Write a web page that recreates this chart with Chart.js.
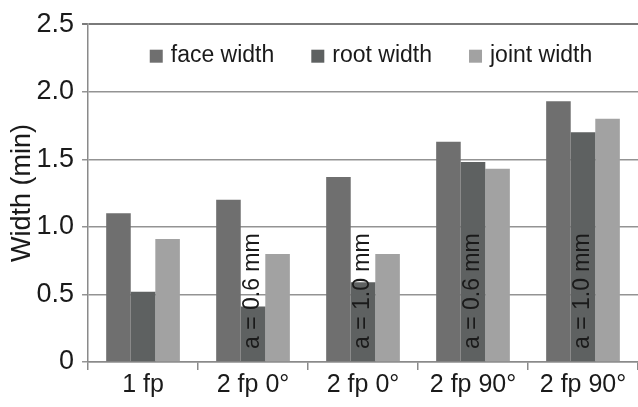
<!DOCTYPE html>
<html>
<head>
<meta charset="utf-8">
<script src="https://cdn.jsdelivr.net/npm/chart.js@4.4.1/dist/chart.umd.min.js"></script>
<style>
  html, body { margin: 0; padding: 0; background: #fff; overflow: hidden; }
  #wrap { position: relative; width: 638px; height: 407px; }
</style>
</head>
<body>
<div id="wrap"><canvas id="canvas-grafico-largura"></canvas></div>
<script>
const categorias = ["1 fp", "2 fp 0°", "2 fp 0°", "2 fp 90°", "2 fp 90°"];
const faceWidth = [1.10, 1.20, 1.37, 1.63, 1.93];
const rootWidth = [0.52, 0.41, 0.59, 1.48, 1.70];
const jointWidth = [0.91, 0.80, 0.80, 1.43, 1.80];
const notas = ["", "a = 0.6 mm", "a = 1.0 mm", "a = 0.6 mm", "a = 1.0 mm"];
const yTicks = [0, 0.5, 1.0, 1.5, 2.0, 2.5];

const fonte = "'Liberation Sans', Arial, sans-serif";
Chart.defaults.font.family = fonte;
Chart.defaults.color = "#1a1a1a";

// vertical "a = ..." text on the root width bars
const notasPlugin = {
  id: "notas",
  afterDatasetsDraw(chart) {
    const ctx = chart.ctx;
    const meta = chart.getDatasetMeta(1);
    const y0 = chart.scales.y.getPixelForValue(0);
    ctx.save();
    ctx.font = "23px " + fonte;
    ctx.fillStyle = "#1a1a1a";
    ctx.textAlign = "left";
    ctx.textBaseline = "middle";
    notas.forEach((txt, i) => {
      if (!txt) return;
      const bar = meta.data[i];
      ctx.save();
      ctx.translate(bar.x, y0 - 13);
      ctx.rotate(-Math.PI / 2);
      ctx.fillText(txt, 0, 0);
      ctx.restore();
    });
    ctx.restore();
  },
};

// legend in one row inside the plot area
const legendaPlugin = {
  id: "legenda",
  afterDraw(chart) {
    const ctx = chart.ctx;
    const area = chart.chartArea;
    const box = 13, gapText = 8, gapItem = 37;
    ctx.save();
    ctx.font = "23px " + fonte;
    ctx.textAlign = "left";
    ctx.textBaseline = "middle";
    const items = chart.data.datasets.map((ds) => ({
      text: ds.label,
      color: ds.backgroundColor,
      w: ctx.measureText(ds.label).width,
    }));
    const total = items.reduce((s, it) => s + box + gapText + it.w, 0) + gapItem * (items.length - 1);
    let x = (area.left + area.right) / 2 - total / 2 + 8;
    const y = area.top + 31;
    items.forEach((it) => {
      ctx.fillStyle = it.color;
      ctx.fillRect(x, y - box / 2 + 1, box, box);
      ctx.fillStyle = "#1a1a1a";
      ctx.fillText(it.text, x + box + gapText, y);
      x += box + gapText + it.w + gapItem;
    });
    ctx.restore();
  },
};

new Chart(document.getElementById("canvas-grafico-largura"), {
  type: "bar",
  plugins: [notasPlugin, legendaPlugin],
  data: {
    labels: categorias,
    datasets: [
      { label: "face width", data: faceWidth, backgroundColor: "#6f6f6f", borderWidth: 0 },
      { label: "root width", data: rootWidth, backgroundColor: "#5e6161", borderWidth: 0 },
      { label: "joint width", data: jointWidth, backgroundColor: "#a2a2a2", borderWidth: 0 },
    ],
  },
  options: {
    responsive: true,
    maintainAspectRatio: false,
    animation: false,
    layout: { padding: { top: 20, left: 0, right: 0, bottom: 6 } },
    datasets: { bar: { categoryPercentage: 0.67, barPercentage: 1.0 } },
    plugins: {
      tooltip: { enabled: false },
      legend: { display: false },
    },
    scales: {
      x: {
        grid: {
          display: true,
          drawOnChartArea: false,
          drawTicks: true,
          tickLength: 8,
          color: "#8a8a8a",
          lineWidth: 1.5,
        },
        border: { color: "#8a8a8a", width: 1.5 },
        ticks: {
          font: { size: 25, lineHeight: 1 },
          color: "#1a1a1a",
          padding: 3,
          maxRotation: 0,
          autoSkip: false,
        },
      },
      y: {
        min: 0,
        max: 2.5,
        afterBuildTicks: (axis) => {
          axis.ticks = yTicks.map((v) => ({ value: v }));
        },
        ticks: {
          font: { size: 27 },
          color: "#1a1a1a",
          padding: 8,
          callback: (v) => (v === 0 ? "0" : Number(v).toFixed(1)),
        },
        grid: {
          color: (c) => (c.tick && c.tick.value === 2.5 ? "#7a7a7a" : "#939393"),
          lineWidth: (c) => (c.tick && c.tick.value === 2.5 ? 2 : 1.5),
          tickLength: 6,
        },
        border: { color: "#8a8a8a", width: 1.5 },
        title: {
          display: true,
          text: "Width (min)",
          color: "#1a1a1a",
          font: { size: 27, lineHeight: 1 },
          padding: { top: 9.5, bottom: -8 },
        },
      },
    },
  },
});
</script>
</body>
</html>
